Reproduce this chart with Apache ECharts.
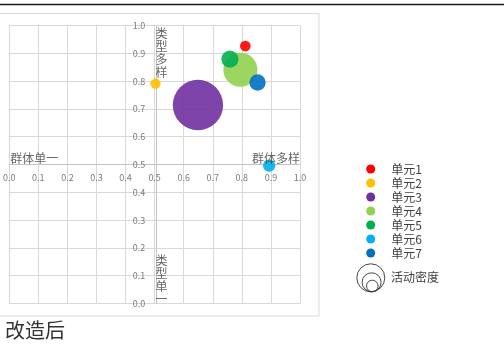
<!DOCTYPE html>
<html>
<head>
<meta charset="utf-8">
<style>
  html, body { margin: 0; padding: 0; background: #fff; }
  #chart { width: 504px; height: 344px; }
</style>
<script src="https://cdn.jsdelivr.net/npm/echarts@6/dist/echarts.min.js"></script>
</head>
<body>
<div id="chart"></div>
<script>
// Units plotted: group diversity (x) vs. type diversity (y), bubble area = activity density
const units = ['单元1', '单元2', '单元3', '单元4', '单元5', '单元6', '单元7'];
const groupDiversity = [0.812, 0.503, 0.649, 0.795, 0.759, 0.894, 0.854];
const typeDiversity = [0.926, 0.791, 0.714, 0.841, 0.879, 0.496, 0.795];
const activityDensity = [0.045, 0.042, 1.0, 0.46, 0.115, 0.06, 0.105];
const unitColors = ['#FF0000', '#FFC000', '#7030A0', '#92D050', '#00B050', '#00B0F0', '#0070C0'];

// Tick values for both axes
const axisTicks = [0, 0.1, 0.2, 0.3, 0.4, 0.5, 0.6, 0.7, 0.8, 0.9, 1.0];

// Quadrant captions, anchored at axis positions
const quadrantNames = ['群体单一', '群体多样', '类型多样', '类型单一'];
const quadrantAnchors = [[0, 0.5], [1, 0.5], [0.5, 1], [0.5, 0]];

const caption = '改造后';
const sizeLegendName = '活动密度';

const FONT = '"Noto Sans CJK SC", "Noto Sans", sans-serif';
const MAX_DIAMETER = 50.3;

const chart = echarts.init(document.getElementById('chart'), null, { renderer: 'canvas' });

const bubbleSeries = units.map((name, i) => ({
  name: name,
  type: 'scatter',
  data: [[groupDiversity[i], typeDiversity[i], activityDensity[i]]],
  symbolSize: v => MAX_DIAMETER * Math.sqrt(v[2]),
  itemStyle: { color: unitColors[i], opacity: 0.9 },
  emphasis: { disabled: true },
  z: 3
}));

const quadrantLabelSettings = [
  { align: 'left', verticalAlign: 'bottom', offset: [1, 0] },
  { align: 'right', verticalAlign: 'bottom', offset: [0, 0] },
  { align: 'left', verticalAlign: 'top', offset: [1, 1], vertical: true },
  { align: 'left', verticalAlign: 'bottom', offset: [1, 2], vertical: true }
];

const quadrantSeries = {
  name: 'quadrants',
  type: 'scatter',
  silent: true,
  symbolSize: 0,
  z: 4,
  data: quadrantNames.map((t, i) => {
    const s = quadrantLabelSettings[i];
    const text = s.vertical ? t.split('').join('\n') : t;
    return {
      value: [quadrantAnchors[i][0], quadrantAnchors[i][1]],
      label: {
        show: true,
        formatter: text,
        position: [0, 0],
        align: s.align,
        verticalAlign: s.verticalAlign,
        offset: s.offset,
        fontSize: 12,
        lineHeight: s.vertical ? 13 : 12,
        color: '#404040',
        fontFamily: FONT
      }
    };
  })
};

const option = {
  animation: false,
  backgroundColor: '#ffffff',
  grid: { left: 6, right: 204, top: 25.5, bottom: 40.5, containLabel: false },
  xAxis: {
    type: 'value',
    min: 0,
    max: 1,
    interval: 0.1,
    position: 'bottom',
    offset: -139,
    axisLine: { show: true, onZero: false, lineStyle: { color: '#c4c4c4', width: 1 } },
    axisTick: { show: false },
    axisLabel: {
      color: '#7a7a7a', fontSize: 9, margin: 9, fontFamily: FONT,
      formatter: v => v.toFixed(1)
    },
    splitLine: { show: true, lineStyle: { color: '#d9d9d9', width: 1 } }
  },
  yAxis: {
    type: 'value',
    min: 0,
    max: 1,
    interval: 0.1,
    position: 'left',
    offset: -147,
    axisLine: { show: true, onZero: false, lineStyle: { color: '#c4c4c4', width: 1 } },
    axisTick: { show: false },
    axisLabel: {
      color: '#7a7a7a', fontSize: 9, margin: 11, fontFamily: FONT,
      formatter: v => v.toFixed(1)
    },
    splitLine: { show: true, lineStyle: { color: '#d9d9d9', width: 1 } }
  },
  legend: {
    data: units,
    orient: 'vertical',
    left: 366.2,
    top: 163,
    padding: 0,
    icon: 'circle',
    itemWidth: 9,
    itemHeight: 9,
    itemGap: 2,
    selectedMode: false,
    itemStyle: { opacity: 1 },
    textStyle: { fontSize: 12, lineHeight: 12, color: '#404040', fontFamily: FONT, padding: [0, 0, 0, 11] }
  },
  graphic: [
    // rule across the top of the page
    { type: 'line', shape: { x1: 0, y1: 4.5, x2: 504, y2: 4.5 }, style: { stroke: '#1a1a1a', lineWidth: 1.5 } },
    // chart frame
    { type: 'rect', shape: { x: -1, y: 13.5, width: 320, height: 302.5 }, style: { fill: 'none', stroke: '#d9d9d9', lineWidth: 1 }, z: -1 },
    // bubble size key
    { type: 'circle', shape: { cx: 370.8, cy: 277.8, r: 14 }, style: { fill: 'none', stroke: '#333', lineWidth: 0.9 } },
    { type: 'circle', shape: { cx: 371.6, cy: 282.3, r: 9.5 }, style: { fill: 'none', stroke: '#333', lineWidth: 0.9 } },
    { type: 'circle', shape: { cx: 372.3, cy: 286, r: 5.8 }, style: { fill: 'none', stroke: '#333', lineWidth: 0.9 } },
    { type: 'text', left: 391, top: 271, style: { text: sizeLegendName, fontSize: 12, fill: '#404040', fontFamily: FONT } },
    // caption under the chart
    { type: 'text', left: 5, top: 320, style: { text: caption, fontSize: 20, fill: '#333333', fontFamily: FONT } }
  ],
  series: bubbleSeries.concat([quadrantSeries])
};

chart.setOption(option);
</script>
</body>
</html>
